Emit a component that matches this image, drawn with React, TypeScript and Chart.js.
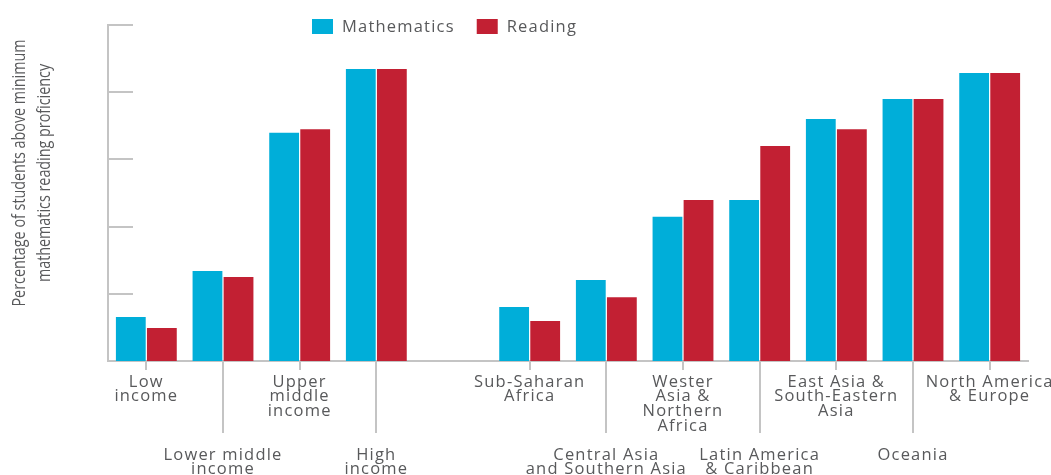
import React, { useEffect, useRef } from "react";
import { Chart, registerables } from "chart.js";

Chart.register(...registerables);

const categories = [
  "Low income",
  "Lower middle income",
  "Upper middle income",
  "High income",
  "",
  "Sub-Saharan Africa",
  "Central Asia and Southern Asia",
  "Wester Asia & Northern Africa",
  "Latin America & Caribbean",
  "East Asia & South-Eastern Asia",
  "Oceania",
  "North America & Europe",
];

const tickLabels: string[][] = [
  ["Low", "income"],
  ["", "", "", "", "", "Lower middle", "income"],
  ["Upper", "middle", "income"],
  ["", "", "", "", "", "High", "income"],
  [""],
  ["Sub-Saharan", "Africa"],
  ["", "", "", "", "", "Central Asia", "and Southern Asia"],
  ["Wester", "Asia &", "Northern", "Africa"],
  ["", "", "", "", "", "Latin America", "& Caribbean"],
  ["East Asia &", "South-Eastern", "Asia"],
  ["", "", "", "", "", "Oceania"],
  ["North America", "& Europe"],
];

const mathematics = [13.1, 26.8, 67.9, 86.9, null, 16.1, 24.1, 42.9, 47.9, 72.0, 78.0, 85.7];
const reading = [9.8, 25.0, 69.0, 86.9, null, 11.9, 19.0, 47.9, 64.0, 69.0, 78.0, 85.7];

const seriesNames = ["Mathematics", "Reading"];
const seriesColors = ["#00aed9", "#c22033"];
const yTicks = [0, 20, 40, 60, 80, 100];
const yTitle = ["Percentage of students above minimum", "mathematics reading proficiency"];

const TEXT = "#58595b";
const AXIS = "#c4c4c4";
const FONT = "'Open Sans', 'DejaVu Sans', sans-serif";
const SPACING = "1.2px";

const decor = {
  id: "decor",
  beforeDraw(chart: any) {
    (chart.ctx as any).letterSpacing = SPACING;
  },
  beforeDatasetsDraw(chart: any) {
    const { ctx, chartArea, scales } = chart;
    const y = scales.y;
    ctx.save();
    ctx.strokeStyle = AXIS;
    ctx.lineWidth = 2;
    yTicks.forEach((v) => {
      if (v === 0) return;
      const py = Math.round(y.getPixelForValue(v));
      ctx.beginPath();
      ctx.moveTo(chartArea.left, py);
      ctx.lineTo(chartArea.left + 25, py);
      ctx.stroke();
    });
    ctx.restore();
  },
  afterDraw(chart: any) {
    const { ctx, chartArea, scales } = chart;
    const x = scales.x;
    ctx.save();
    // x tick marks
    ctx.strokeStyle = AXIS;
    ctx.lineWidth = 2;
    tickLabels.forEach((lines, i) => {
      if (lines.length === 1 && lines[0] === "") return;
      const px = Math.round(x.getPixelForTick(i));
      const long = lines[0] === "";
      ctx.beginPath();
      ctx.moveTo(px, chartArea.bottom);
      ctx.lineTo(px, chartArea.bottom + (long ? 72 : 9));
      ctx.stroke();
    });

    // y-axis title (condensed)
    (ctx as any).letterSpacing = "0px";
    ctx.fillStyle = TEXT;
    ctx.font = `18.5px ${FONT}`;
    const w = ctx.measureText(yTitle[0]).width;
    const sx = 267 / w;
    ctx.translate(0, 173);
    ctx.rotate(-Math.PI / 2);
    ctx.scale(sx, 1);
    ctx.textAlign = "center";
    ctx.textBaseline = "alphabetic";
    ctx.fillText(yTitle[0], 0, 25);
    ctx.fillText(yTitle[1], 0, 50);
    ctx.restore();

    // legend
    ctx.save();
    (ctx as any).letterSpacing = SPACING;
    ctx.font = `16.5px ${FONT}`;
    ctx.textAlign = "left";
    ctx.textBaseline = "alphabetic";
    let lx = 312;
    chart.data.datasets.forEach((ds: any) => {
      ctx.fillStyle = ds.backgroundColor;
      ctx.fillRect(lx, 19, 21, 15);
      ctx.fillStyle = TEXT;
      ctx.fillText(ds.label, lx + 30, 32);
      lx += 30 + ctx.measureText(ds.label).width + 22;
    });
    ctx.restore();
  },
};

export default function App() {
  const ref = useRef<HTMLCanvasElement | null>(null);

  useEffect(() => {
    if (!ref.current) return;
    const chart = new Chart(ref.current, {
      type: "bar",
      data: {
        labels: categories,
        datasets: [
          {
            label: seriesNames[0],
            data: mathematics,
            backgroundColor: seriesColors[0],
            barPercentage: 0.96,
            categoryPercentage: 0.81,
          },
          {
            label: seriesNames[1],
            data: reading,
            backgroundColor: seriesColors[1],
            barPercentage: 0.96,
            categoryPercentage: 0.81,
          },
        ],
      },
      options: {
        animation: false,
        responsive: false,
        devicePixelRatio: 1,
        layout: { padding: { top: 25, right: 23, left: 0, bottom: 0 } },
        plugins: {
          legend: { display: false },
          tooltip: { enabled: false },
        },
        scales: {
          x: {
            grid: { display: false },
            border: { display: true, color: AXIS, width: 2 },
            ticks: {
              autoSkip: false,
              maxRotation: 0,
              minRotation: 0,
              padding: 6,
              color: TEXT,
              font: { family: FONT, size: 16.5, lineHeight: 0.88 },
              callback: (_v: any, i: number) => tickLabels[i],
            },
            afterFit: (s: any) => {
              s.height = 114;
              s.paddingLeft = 0;
              s.paddingRight = 0;
            },
          },
          y: {
            min: 0,
            max: 100,
            grid: { display: false },
            border: { display: true, color: AXIS, width: 2 },
            ticks: { display: false, stepSize: 20 },
            afterFit: (s: any) => {
              s.width = 108;
            },
          },
        },
      },
      plugins: [decor],
    });
    return () => chart.destroy();
  }, []);

  return (
    <div style={{ position: "fixed", left: 0, top: 0, width: 1051, height: 475, background: "#fff" }}>
      <canvas ref={ref} width={1051} height={475} style={{ width: 1051, height: 475, display: "block" }} />
    </div>
  );
}
